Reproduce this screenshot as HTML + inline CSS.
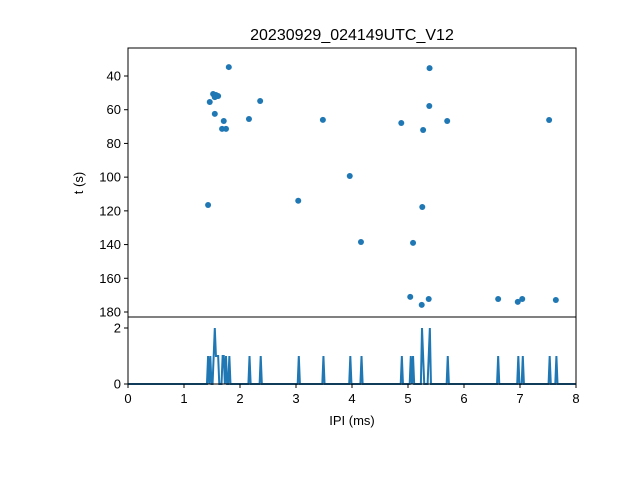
<!DOCTYPE html>
<html><head><meta charset="utf-8"><style>
body{margin:0;background:#fff}
svg text{font-family:"Liberation Sans","DejaVu Sans",sans-serif;fill:#000}
</style></head><body>
<svg id="c" width="640" height="480" xmlns="http://www.w3.org/2000/svg"></svg>
<script>
const ipi=[1.43,1.80,1.52,1.57,1.59,1.55,1.61,1.46,1.55,2.36,2.16,1.71,1.68,1.75,3.04,3.48,3.96,4.16,4.88,5.04,5.09,5.245,5.255,5.27,5.385,5.38,5.37,5.70,6.61,6.96,7.04,7.52,7.64];
const tSec=[116.5,34.7,50.7,51.3,51.9,52.5,51.9,55.4,62.5,54.8,65.5,66.7,71.4,71.4,114,66,99.3,138.5,67.9,171,139,175.8,117.7,72,35.3,57.8,172.3,66.7,172.3,174,172.3,66.1,172.9];
const xTicks=[0,1,2,3,4,5,6,7,8];
const yTicks=[40,60,80,100,120,140,160,180];
const hTicks=[0,2];
const svg=document.getElementById('c');const NS='http://www.w3.org/2000/svg';
function el(t,a,p){const e=document.createElementNS(NS,t);for(const k in a)e.setAttribute(k,a[k]);(p||svg).appendChild(e);return e;}
const L=128,R=576,T=48,M=317,B=384;
const X=v=>L+v*(R-L)/8;
const Y=v=>76+(v-40)*236/140;
const H=v=>384-v*28;
const title=el('text',{x:352,y:40,'text-anchor':'middle','font-size':16});title.textContent='20230929_024149UTC_V12';


for(let i=0;i<ipi.length;i++){const c=el('circle',{cx:X(ipi[i]),cy:Y(tSec[i]),r:3,fill:'#1f77b4'});

}
const bw=0.02,nb=400,counts=new Array(nb).fill(0);
ipi.forEach(v=>{const b=Math.floor(v/bw+1e-9);if(b>=0&&b<nb)counts[b]++;});
let d='';for(let b=0;b<nb;b++){d+=(b?'L':'M')+X((b+0.5)*bw).toFixed(2)+','+H(counts[b]).toFixed(2);}
const hp=el('path',{d:d,fill:'none',stroke:'#1f77b4','stroke-width':2});


const f1=el('rect',{x:L,y:T,width:R-L,height:M-T,fill:'none',stroke:'#000','stroke-width':1});


const f2=el('rect',{x:L,y:M,width:R-L,height:B-M,fill:'none',stroke:'#000','stroke-width':1});


yTicks.forEach(v=>{el('line',{x1:L,x2:L-4,y1:Y(v),y2:Y(v),stroke:'#000'});const t=el('text',{x:L-7,y:Y(v)+4.5,'text-anchor':'end','font-size':13});t.textContent=v;

});
hTicks.forEach(v=>{el('line',{x1:L,x2:L-4,y1:H(v),y2:H(v),stroke:'#000'});const t=el('text',{x:L-7,y:H(v)+4.5,'text-anchor':'end','font-size':13});t.textContent=v;

});
xTicks.forEach(v=>{el('line',{x1:X(v),x2:X(v),y1:B,y2:B+4,stroke:'#000'});const t=el('text',{x:X(v),y:B+19,'text-anchor':'middle','font-size':13});t.textContent=v;

});
const xl=el('text',{x:352,y:425,'text-anchor':'middle','font-size':13});xl.textContent='IPI (ms)';


const yl=el('text',{x:83,y:183,'text-anchor':'middle','font-size':13,transform:'rotate(-90 83 183)'});yl.textContent='t (s)';


</script>
</body></html>
